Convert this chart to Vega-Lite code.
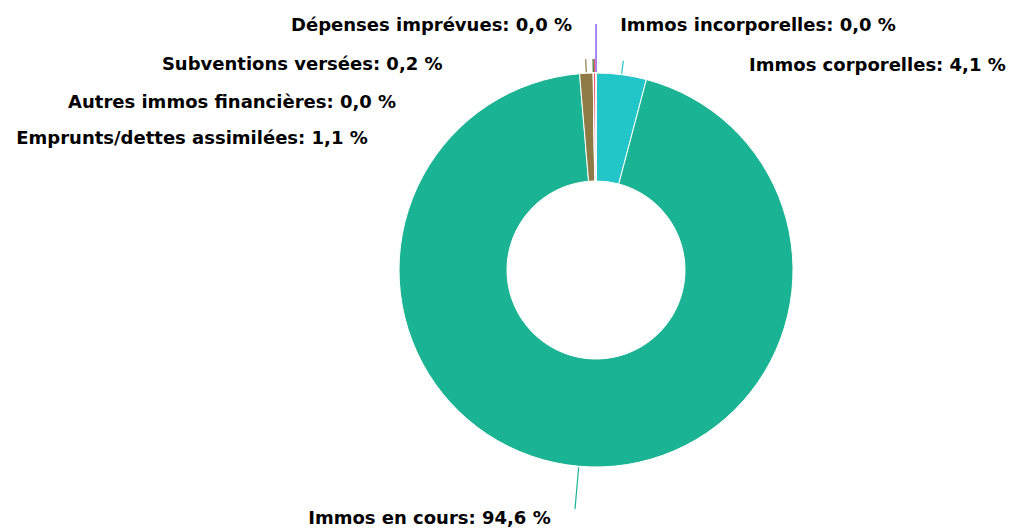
{
  "$schema": "https://vega.github.io/schema/vega-lite/v6.json",
  "width": 400,
  "height": 400,
  "autosize": {"type": "none"},
  "padding": {"left": 396, "top": 70, "right": 214, "bottom": 58},
  "background": "white",
  "config": {
    "view": {"stroke": null},
    "text": {"font": "DejaVu Sans", "fontWeight": "bold", "fontSize": 18, "baseline": "alphabetic"}
  },
  "data": {
    "values": [
      {"poste": "Immos incorporelles", "pct": 0.02},
      {"poste": "Immos corporelles", "pct": 4.1},
      {"poste": "Immos en cours", "pct": 94.6},
      {"poste": "Emprunts/dettes assimilées", "pct": 1.1},
      {"poste": "Autres immos financières", "pct": 0.02},
      {"poste": "Subventions versées", "pct": 0.2},
      {"poste": "Dépenses imprévues", "pct": 0.02}
    ]
  },
  "transform": [
    {"stack": "pct", "groupby": [], "as": ["debut", "fin"]},
    {"calculate": "(datum.debut + datum.fin) / 2", "as": "milieu"},
    {"calculate": "datum.poste + ': ' + replace(format(datum.pct, '.1f'), '.', ',') + ' %'", "as": "etiquette"}
  ],
  "encoding": {
    "color": {
      "field": "poste",
      "type": "nominal",
      "legend": null,
      "scale": {
        "domain": ["Immos incorporelles", "Immos corporelles", "Immos en cours", "Emprunts/dettes assimilées", "Autres immos financières", "Subventions versées", "Dépenses imprévues"],
        "range": ["#6f7ff2", "#23c6c8", "#1ab394", "#8d7a44", "#2f6f2f", "#ed5565", "#a56ff0"]
      }
    }
  },
  "layer": [
    {
      "mark": {"type": "arc", "radius": 197, "radius2": 89, "stroke": "white", "strokeWidth": 1},
      "encoding": {
        "theta": {"field": "debut", "type": "quantitative", "stack": null, "scale": {"nice": false, "zero": true}},
        "theta2": {"field": "fin"}
      }
    },
    {
      "transform": [{"filter": "datum.poste === 'Immos incorporelles' || datum.poste === 'Dépenses imprévues'"}],
      "mark": {"type": "arc", "filled": false, "radius": 246, "radius2": 198, "strokeWidth": 1.2},
      "encoding": {
        "theta": {"field": "milieu", "type": "quantitative", "stack": null},
        "theta2": {"field": "milieu"}
      }
    },
    {
      "transform": [{"filter": "datum.poste !== 'Immos incorporelles' && datum.poste !== 'Dépenses imprévues' && datum.poste !== 'Immos en cours'"}],
      "mark": {"type": "arc", "filled": false, "radius": 211, "radius2": 198, "strokeWidth": 1.2},
      "encoding": {
        "theta": {"field": "milieu", "type": "quantitative", "stack": null},
        "theta2": {"field": "milieu"}
      }
    },
    {
      "transform": [{"filter": "datum.poste === 'Immos en cours'"}],
      "mark": {"type": "arc", "filled": false, "radius": 240, "radius2": 198, "strokeWidth": 1.2},
      "encoding": {
        "theta": {"field": "milieu", "type": "quantitative", "stack": null},
        "theta2": {"field": "milieu"}
      }
    },
    {
      "transform": [{"filter": "datum.poste === 'Immos incorporelles'"}],
      "mark": {"type": "text", "radius": 239, "align": "left", "dx": 24},
      "encoding": {
        "theta": {"field": "milieu", "type": "quantitative", "stack": null},
        "text": {"field": "etiquette"},
        "color": {"value": "#000000"}
      }
    },
    {
      "transform": [{"filter": "datum.poste === 'Dépenses imprévues'"}],
      "mark": {"type": "text", "radius": 239, "align": "right", "dx": -24},
      "encoding": {
        "theta": {"field": "milieu", "type": "quantitative", "stack": null},
        "text": {"field": "etiquette"},
        "color": {"value": "#000000"}
      }
    },
    {
      "transform": [{"filter": "datum.poste === 'Immos corporelles'"}],
      "mark": {"type": "text", "radius": 201, "align": "left", "dx": 127},
      "encoding": {
        "theta": {"field": "milieu", "type": "quantitative", "stack": null},
        "text": {"field": "etiquette"},
        "color": {"value": "#000000"}
      }
    },
    {
      "transform": [{"filter": "datum.poste === 'Immos en cours'"}],
      "mark": {"type": "text", "radius": 255, "align": "right", "dx": -23},
      "encoding": {
        "theta": {"field": "milieu", "type": "quantitative", "stack": null},
        "text": {"field": "etiquette"},
        "color": {"value": "#000000"}
      }
    },
    {
      "transform": [{"filter": "datum.poste === 'Emprunts/dettes assimilées'"}],
      "mark": {"type": "text", "radius": 210, "align": "right", "dx": -218, "dy": 84},
      "encoding": {
        "theta": {"field": "milieu", "type": "quantitative", "stack": null},
        "text": {"field": "etiquette"},
        "color": {"value": "#000000"}
      }
    },
    {
      "transform": [{"filter": "datum.poste === 'Autres immos financières'"}],
      "mark": {"type": "text", "radius": 210, "align": "right", "dx": -197, "dy": 48},
      "encoding": {
        "theta": {"field": "milieu", "type": "quantitative", "stack": null},
        "text": {"field": "etiquette"},
        "color": {"value": "#000000"}
      }
    },
    {
      "transform": [{"filter": "datum.poste === 'Subventions versées'"}],
      "mark": {"type": "text", "radius": 210, "align": "right", "dx": -152, "dy": 10},
      "encoding": {
        "theta": {"field": "milieu", "type": "quantitative", "stack": null},
        "text": {"field": "etiquette"},
        "color": {"value": "#000000"}
      }
    }
  ]
}
